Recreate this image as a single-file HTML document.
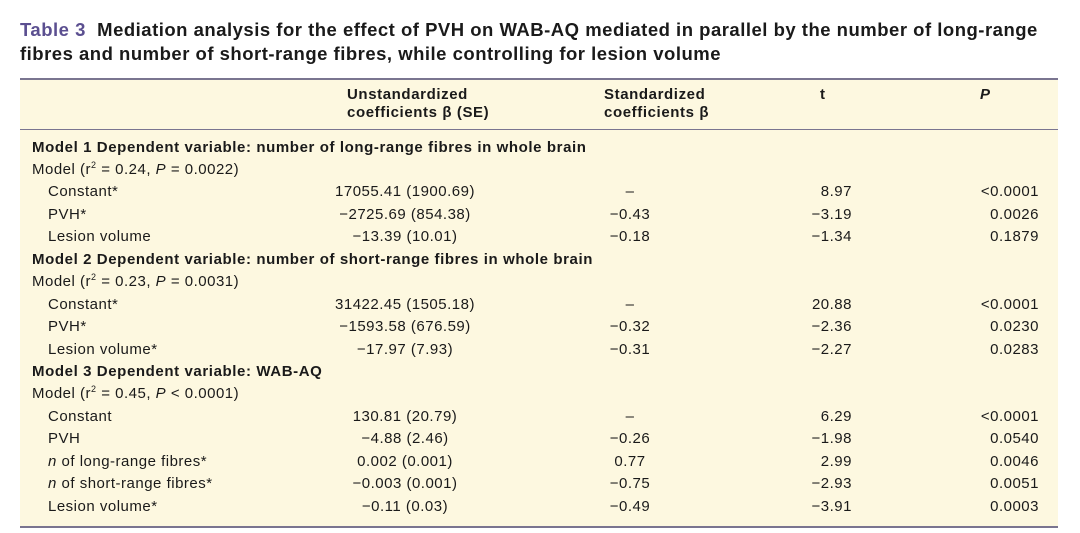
<!DOCTYPE html>
<html><head><meta charset="utf-8"><style>
body{margin:0;width:1080px;height:533px;background:#fff;font-family:"Liberation Sans",sans-serif;color:#1a1a1a;position:relative;overflow:hidden}
.t{position:absolute;left:20px;top:18px;font-size:18.5px;font-weight:bold;line-height:24px;letter-spacing:0.5px}
.t span{color:#5b4f90}
.box{position:absolute;left:20px;top:78px;width:1038px;height:446px;background:#fdf8e0;border-top:2px solid #7a7590;border-bottom:2px solid #7a7590}
.hl{position:absolute;left:20px;top:129px;width:1038px;height:1px;background:#7a7590}
.r{position:absolute;font-size:15px;white-space:nowrap;line-height:18px;letter-spacing:0.5px}
.b{font-weight:bold;letter-spacing:0.6px}
.u{left:405px;transform:translateX(-50%)}
.s{left:630px;transform:translateX(-50%)}
.tt{right:228px;text-align:right}
.p{right:41px;text-align:right}
sup{font-size:9px;line-height:0}
</style></head><body>
<div class="t"><span>Table 3</span>&nbsp; Mediation analysis for the effect of PVH on WAB-AQ mediated in parallel by the number of long-range<br>fibres and number of short-range fibres, while controlling for lesion volume</div>
<div class="box"></div><div class="hl"></div>
<div class="r b" style="left:347px;top:86px">Unstandardized<br>coefficients β (SE)</div>
<div class="r b" style="left:604px;top:86px">Standardized<br>coefficients β</div>
<div class="r b" style="left:820px;top:86px">t</div>
<div class="r b" style="left:980px;top:86px;font-style:italic">P</div>
<div id="rows"></div>
<script>
const rows=[
["h","Model 1 Dependent variable: number of long-range fibres in whole brain"],
["m","Model (r<sup>2</sup> = 0.24, <i>P</i> = 0.0022)"],
["d","Constant*","17055.41 (1900.69)","–","8.97","&lt;0.0001"],
["d","PVH*","−2725.69 (854.38)","−0.43","−3.19","0.0026"],
["d","Lesion volume","−13.39 (10.01)","−0.18","−1.34","0.1879"],
["h","Model 2 Dependent variable: number of short-range fibres in whole brain"],
["m","Model (r<sup>2</sup> = 0.23, <i>P</i> = 0.0031)"],
["d","Constant*","31422.45 (1505.18)","–","20.88","&lt;0.0001"],
["d","PVH*","−1593.58 (676.59)","−0.32","−2.36","0.0230"],
["d","Lesion volume*","−17.97 (7.93)","−0.31","−2.27","0.0283"],
["h","Model 3 Dependent variable: WAB-AQ"],
["m","Model (r<sup>2</sup> = 0.45, <i>P</i> &lt; 0.0001)"],
["d","Constant","130.81 (20.79)","–","6.29","&lt;0.0001"],
["d","PVH","−4.88 (2.46)","−0.26","−1.98","0.0540"],
["d","<i>n</i> of long-range fibres*","0.002 (0.001)","0.77","2.99","0.0046"],
["d","<i>n</i> of short-range fibres*","−0.003 (0.001)","−0.75","−2.93","0.0051"],
["d","Lesion volume*","−0.11 (0.03)","−0.49","−3.91","0.0003"]];
let h="";rows.forEach((r,i)=>{const y=138.5+i*22.45;
if(r[0]=="h")h+=`<div class="r b" style="left:32px;top:${y}px">${r[1]}</div>`;
else if(r[0]=="m")h+=`<div class="r" style="left:32px;top:${y}px">${r[1]}</div>`;
else h+=`<div class="r" style="left:48px;top:${y}px">${r[1]}</div><div class="r u" style="top:${y}px">${r[2]}</div><div class="r s" style="top:${y}px">${r[3]}</div><div class="r tt" style="top:${y}px">${r[4]}</div><div class="r p" style="top:${y}px">${r[5]}</div>`;});
document.getElementById("rows").innerHTML=h;
</script>
</body></html>
